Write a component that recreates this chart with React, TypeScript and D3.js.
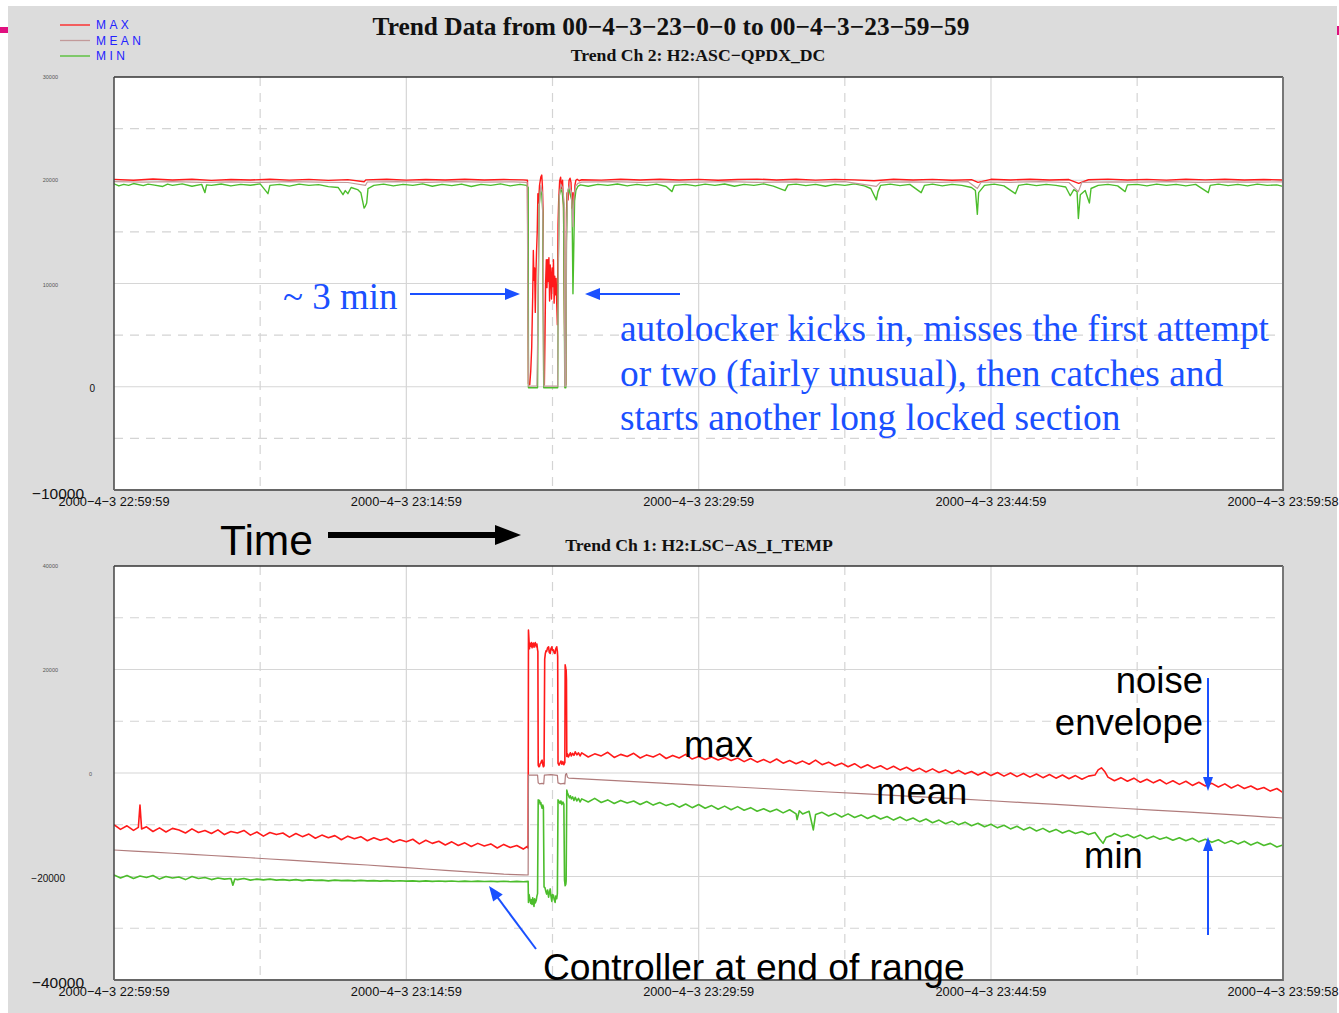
import React from 'react';
import * as d3 from 'd3';

// ---------- DATA ----------
// time axis: seconds after 2000-4-3 22:59:59
const xTickTimes = [0, 900, 1800, 2700, 3599];
const xTickLabels = [
  '2000−4−3 22:59:59',
  '2000−4−3 23:14:59',
  '2000−4−3 23:29:59',
  '2000−4−3 23:44:59',
  '2000−4−3 23:59:58',
];
const xGridMajor = [900, 1800, 2700];
const xGridMinor = [450, 1350, 2250, 3150];

const topYTicks = [30000, 20000, 10000, 0, -10000];
const topYLabels = ['30000', '20000', '10000', '0', '−10000'];
const topGridMajor = [20000, 10000, 0];
const topGridMinor = [25000, 15000, 5000, -5000];

const botYTicks = [40000, 20000, 0, -20000, -40000];
const botYLabels = ['40000', '20000', '0', '−20000', '−40000'];
const botGridMajor = [20000, 0, -20000];
const botGridMinor = [30000, 10000, -10000, -30000];

const legendNames = ['MAX', 'MEAN', 'MIN'];

// Trend Ch 2: H2:ASC-QPDX_DC  [seconds, value]
const topMax: [number, number][] = [
  [0,20080],[60,20000],[120,20120],[180,20030],[240,20090],[300,19990],[360,20070],[420,20020],[480,20100],[540,20010],
  [600,20080],[660,19990],[720,20060],[770,19850],[776,20040],[840,20090],[900,20010],[960,20070],[1020,20030],[1080,20100],
  [1140,20020],[1200,20070],[1260,20040],[1273,20000],
  [1276,300],[1280,200],[1283,1500],[1286,3800],[1289,8700],[1291,13200],[1293,10300],[1295,11500],[1297,7200],[1299,11000],
  [1301,13200],[1303,15000],[1305,18700],[1307,17800],[1310,19500],[1314,20300],[1317,20500],[1319,19400],[1321,17000],[1323,300],
  [1325,200],[1327,5000],[1329,10300],[1331,12300],[1333,9600],[1335,12300],[1337,10200],[1339,12500],[1341,8300],[1343,11800],
  [1345,10800],[1347,8500],[1349,11500],[1351,9700],[1353,12300],[1355,8100],[1357,10700],[1359,8900],[1361,10500],[1363,8100],
  [1365,6000],[1367,15700],[1369,18000],[1372,19900],[1375,20300],[1378,19200],[1381,20000],[1384,17300],[1387,6000],[1389,300],
  [1391,200],[1393,16800],[1395,18800],[1398,18100],[1401,20000],[1404,20200],[1407,19800],[1410,17300],[1413,18800],[1416,17500],
  [1419,19500],[1422,20000],[1426,20100],[1432,19950],
  [1440,20050],[1500,20010],[1560,20090],[1620,20030],[1680,20100],[1740,20020],[1800,20080],[1860,20000],[1920,20070],[1980,20110],
  [2040,20030],[2100,20090],[2160,20010],[2220,20080],[2280,20040],[2340,19950],[2400,20100],[2460,20020],[2520,20080],[2580,20000],
  [2640,20060],[2660,19800],[2700,20090],[2760,20030],[2820,20100],[2880,20020],[2940,20070],[2970,19700],[3000,20050],[3060,20110],
  [3120,20030],[3180,20080],[3240,20010],[3300,20090],[3360,20040],[3420,20100],[3480,20020],[3540,20070],[3599,20030],
];
const topMean: [number, number][] = [
  [0,19860],[90,19820],[180,19870],[270,19800],[360,19850],[450,19790],[540,19860],[630,19820],[720,19780],[774,19500],
  [780,19830],[870,19860],[960,19800],[1050,19870],[1140,19820],[1230,19850],[1272,19800],
  [1276,50],[1302,80],[1305,6000],[1309,17500],[1314,19500],[1319,18800],[1322,12000],[1324,60],[1366,60],[1368,12000],
  [1371,18500],[1376,19600],[1381,19300],[1386,17800],[1388,60],[1391,60],[1393,15000],[1397,19000],[1402,19500],[1408,18900],
  [1413,15500],[1416,18400],[1421,19400],[1428,19700],
  [1440,19820],[1530,19860],[1620,19800],[1710,19850],[1800,19810],[1890,19860],[1980,19790],[2070,19850],[2160,19820],[2250,19870],
  [2347,19400],[2360,19820],[2450,19850],[2540,19800],[2630,19860],[2658,19200],[2670,19830],[2760,19800],[2850,19860],[2940,19780],
  [2969,18900],[2980,19800],[3070,19850],[3160,19810],[3250,19860],[3340,19800],[3430,19850],[3520,19820],[3599,19840],
];
const topMin: [number, number][] = [
  [0,19650],[15,19450],[30,19600],[45,19500],[60,19680],[90,19480],[105,19620],[120,19550],[150,19400],[165,19620],
  [180,19500],[210,19650],[240,19420],[270,19600],[280,18800],[285,19550],[300,19500],[330,19640],[360,19450],[390,19600],
  [420,19520],[450,19650],[474,18700],[480,19500],[510,19600],[540,19430],[570,19620],[600,19500],[630,19580],[660,19380],
  [690,19300],[705,18600],[712,19000],[720,18700],[730,19300],[750,19100],[760,18800],[770,17300],[774,17500],[778,17800],
  [782,19200],[800,19500],[830,19620],[860,19450],[890,19600],[920,19500],[950,19650],[980,19420],[1010,19600],[1040,19480],
  [1070,19630],[1100,19400],[1130,19600],[1160,19500],[1190,19650],[1220,19450],[1250,19600],[1270,19500],[1275,19300],
  [1276,-100],[1304,-100],[1306,9000],[1309,17500],[1313,19100],[1317,18600],[1320,17000],[1323,-100],[1366,-100],[1368,12000],
  [1371,18500],[1375,19200],[1380,18800],[1384,17600],[1388,-100],[1391,-100],[1393,14000],[1396,18700],[1400,19200],[1405,18600],
  [1410,18000],[1413,9000],[1415,12500],[1418,18000],[1422,19000],[1428,19400],[1436,19550],
  [1460,19420],[1490,19600],[1520,19500],[1550,19640],[1580,19450],[1610,19600],[1640,19480],[1670,19620],[1700,19400],[1718,18900],
  [1725,19500],[1760,19600],[1790,19450],[1820,19620],[1850,19500],[1880,19640],[1910,19420],[1940,19600],[1970,19500],[2000,19650],
  [2030,19430],[2066,19000],[2075,19550],[2100,19620],[2130,19480],[2160,19600],[2190,19420],[2220,19600],[2250,19500],[2280,19650],
  [2310,19450],[2330,19200],[2347,18100],[2352,18900],[2360,19500],[2390,19620],[2420,19480],[2450,19600],[2485,18800],[2495,19500],
  [2520,19620],[2550,19450],[2580,19600],[2610,19500],[2640,19300],[2652,19000],[2658,16700],[2662,18800],[2680,19500],[2710,19620],
  [2740,19450],[2775,18700],[2785,19500],[2810,19620],[2840,19480],[2870,19600],[2900,19500],[2930,19350],[2944,18500],[2955,19100],
  [2965,18900],[2969,16300],[2975,18600],[2990,19000],[3003,17800],[3008,19200],[3030,19500],[3060,19600],[3090,19450],[3113,18900],
  [3120,19550],[3150,19600],[3180,19450],[3210,19620],[3240,19500],[3270,19600],[3300,19450],[3330,19600],[3369,18800],[3375,19500],
  [3400,19620],[3430,19480],[3460,19600],[3490,19450],[3520,19620],[3550,19500],[3580,19550],[3599,19400],
];

// Trend Ch 1: H2:LSC-AS_I_TEMP  [seconds, value]
const botMax: [number, number][] = [
  [0,-10000],[20,-10900],[40,-10200],[60,-11100],[75,-10500],[80,-6200],[85,-10800],[100,-10400],[120,-11300],[140,-10600],
  [160,-11400],[180,-10700],[200,-11000],[220,-11600],[240,-10800],[260,-11500],[280,-11100],[300,-11700],[320,-11000],[340,-11900],
  [360,-11300],[380,-11600],[400,-11100],[420,-12000],[440,-11400],[460,-12200],[480,-11500],[500,-11900],[520,-11600],[540,-12400],
  [560,-11700],[580,-12300],[600,-11800],[620,-12600],[640,-12000],[660,-12500],[680,-12100],[700,-12900],[720,-12200],[740,-12700],
  [760,-12300],[780,-13100],[800,-12500],[820,-13000],[840,-12600],[860,-13400],[880,-12900],[900,-13300],[920,-12800],[940,-13700],
  [960,-13000],[980,-13600],[1000,-13200],[1020,-13900],[1040,-13300],[1060,-14000],[1080,-13500],[1100,-14200],[1120,-13600],[1140,-14100],
  [1160,-13700],[1180,-14500],[1200,-13800],[1220,-14400],[1240,-14000],[1260,-14700],[1272,-14200],[1275,-14500],
  [1276,27600],[1279,24000],[1281,25000],[1283,24500],[1285,25200],[1287,24200],[1289,25000],[1291,25100],[1293,24300],[1295,24800],
  [1297,25200],[1300,24400],[1302,24900],[1304,23800],[1305,23500],[1306,1500],[1308,1200],[1310,1300],[1312,1800],[1314,1900],
  [1316,2300],[1318,2500],[1320,1700],[1322,1200],[1324,1400],[1326,22000],[1328,23100],[1330,23600],[1332,23500],[1335,24200],
  [1338,24400],[1340,23300],[1343,23100],[1345,24000],[1348,24400],[1350,23700],[1353,23800],[1355,23200],[1358,23100],[1360,24000],
  [1363,24400],[1365,23500],[1366,22500],[1367,1900],[1370,1500],[1373,1900],[1376,2300],[1379,1700],[1382,2200],[1385,1600],
  [1387,1900],[1388,2000],[1389,20900],[1391,20200],[1392,19900],[1393,18000],[1394,3200],[1396,3700],[1399,3100],[1402,3500],
  [1405,3900],[1408,3300],[1412,3800],[1416,3400],[1420,4100],[1425,3500],[1430,3900],[1435,3300],
  [1440,3900],[1460,3100],[1480,3700],[1500,3300],[1520,4000],[1540,3000],[1560,3600],[1580,3200],[1600,3800],[1620,2900],
  [1640,3500],[1660,3100],[1680,3700],[1700,2800],[1720,3400],[1740,2900],[1760,3600],[1780,2700],[1800,3200],[1820,2600],
  [1840,3100],[1860,2500],[1880,3000],[1900,2400],[1920,2900],[1940,2200],[1960,2800],[1980,2100],[2000,2600],[2020,2000],
  [2040,2700],[2060,1900],[2080,2400],[2100,1800],[2120,2300],[2140,1700],[2160,2500],[2180,1600],[2200,2100],[2220,1400],
  [2240,1900],[2260,1200],[2280,1800],[2300,1000],[2320,1600],[2340,900],[2360,1400],[2380,700],[2400,1300],[2420,600],
  [2440,1100],[2460,400],[2480,900],[2500,200],[2520,800],[2540,100],[2560,600],[2580,-100],[2600,500],[2620,-200],
  [2640,300],[2660,-400],[2680,200],[2700,-500],[2720,100],[2740,-600],[2760,0],[2780,-700],[2800,-100],[2820,-800],
  [2840,-200],[2860,-900],[2880,-300],[2900,-1000],[2920,-400],[2940,-1100],[2960,-500],[2980,-1200],[3000,-600],[3020,-400],
  [3030,600],[3040,1000],[3050,300],[3060,-800],[3080,-1500],[3100,-900],[3120,-1600],[3140,-1000],[3160,-1800],[3180,-1200],
  [3200,-1900],[3220,-1300],[3240,-2100],[3260,-1500],[3280,-2200],[3300,-1600],[3320,-2400],[3340,-1800],[3360,-2500],[3380,-2000],
  [3400,-2700],[3420,-2100],[3440,-2900],[3460,-2300],[3480,-3000],[3500,-2500],[3520,-3200],[3540,-2800],[3560,-3500],[3580,-3000],
  [3599,-3800],
];
const botMean: [number, number][] = [
  [0,-14880],[60,-15090],[120,-15300],[180,-15510],[240,-15730],[300,-15940],[360,-16150],[420,-16380],[480,-16620],[540,-16850],
  [600,-17090],[660,-17320],[720,-17550],[780,-17780],[840,-18040],[900,-18290],[960,-18550],[1020,-18800],[1080,-19060],[1140,-19310],
  [1200,-19560],[1260,-19680],[1275,-19710],
  [1276,-400],[1304,-400],[1306,-1900],[1310,-2100],[1318,-2000],[1323,-2100],[1325,-400],[1345,-300],[1365,-450],[1367,-1900],
  [1375,-2100],[1385,-2000],[1388,-2100],[1390,-300],[1393,-100],[1396,-800],
  [1400,-990],[1500,-1320],[1600,-1660],[1700,-1990],[1800,-2330],[1900,-2660],[2000,-3000],[2100,-3330],[2200,-3670],[2300,-4000],
  [2400,-4340],[2500,-4670],[2600,-5010],[2700,-5360],[2800,-5720],[2900,-6080],[3000,-6440],[3100,-6810],[3200,-7170],[3300,-7530],
  [3400,-7900],[3500,-8280],[3599,-8700],
];
const botMin: [number, number][] = [
  [0,-19700],[20,-20300],[40,-19800],[60,-20400],[80,-19900],[100,-20200],[120,-19800],[140,-20500],[160,-20000],[180,-20300],
  [200,-20100],[220,-20600],[240,-20000],[260,-20400],[280,-20200],[300,-20600],[320,-20300],[340,-20500],[360,-20400],[366,-21700],
  [372,-20500],[380,-20600],[400,-20400],[420,-20700],[440,-20500],[460,-20650],[480,-20500],[500,-20700],[520,-20600],[540,-20750],
  [560,-20600],[580,-20800],[600,-20650],[620,-20750],[640,-20700],[660,-20850],[680,-20700],[700,-20800],[720,-20750],[740,-20850],
  [760,-20750],[780,-20850],[800,-20800],[820,-20900],[840,-20800],[860,-20900],[880,-20820],[900,-20900],[920,-20850],[940,-20950],
  [960,-20850],[980,-20950],[1000,-20870],[1020,-20950],[1040,-20880],[1060,-20960],[1080,-20900],[1100,-20980],[1120,-20900],[1140,-20970],
  [1160,-20920],[1180,-20990],[1200,-20920],[1220,-21000],[1240,-20950],[1260,-21000],[1275,-20950],
  [1276,-25000],[1278,-23500],[1280,-24200],[1283,-25200],[1285,-24500],[1287,-25400],[1289,-24100],[1291,-24800],[1293,-25800],[1295,-24300],
  [1297,-25100],[1300,-24600],[1302,-23800],[1304,-23300],[1306,-5200],[1308,-5600],[1310,-5300],[1312,-6000],[1314,-5700],[1316,-6400],
  [1318,-6800],[1320,-6200],[1322,-6600],[1324,-22000],[1327,-22200],[1330,-23000],[1332,-23400],[1335,-22600],[1338,-24000],[1340,-23200],
  [1343,-22400],[1345,-23700],[1348,-24800],[1350,-23500],[1353,-23600],[1355,-24400],[1358,-25000],[1360,-23800],[1363,-24300],[1365,-23300],
  [1367,-5200],[1370,-5500],[1373,-5900],[1376,-5400],[1379,-6100],[1382,-5600],[1385,-6000],[1387,-20700],[1389,-21800],[1391,-21500],
  [1392,-20900],[1394,-3300],[1396,-3800],[1399,-4300],[1402,-4800],[1405,-4400],[1408,-5000],[1412,-4600],[1416,-5300],[1420,-4700],
  [1425,-5400],[1430,-4900],[1435,-5600],
  [1440,-5000],[1460,-5600],[1480,-4900],[1500,-5700],[1520,-5200],[1540,-5900],[1560,-5300],[1580,-5800],[1600,-5400],[1620,-6100],
  [1640,-5500],[1660,-6200],[1680,-5700],[1700,-6300],[1720,-5900],[1740,-6600],[1760,-6000],[1780,-6700],[1800,-6100],[1820,-6800],
  [1840,-6300],[1860,-7000],[1880,-6400],[1900,-7100],[1920,-6500],[1940,-7200],[1960,-6700],[1980,-7400],[2000,-6900],[2020,-7500],
  [2040,-7000],[2060,-7700],[2080,-7100],[2100,-7900],[2103,-9000],[2110,-7300],[2120,-7900],[2140,-7400],[2153,-11000],[2160,-8000],
  [2180,-7600],[2200,-8300],[2220,-7800],[2240,-8500],[2260,-7900],[2280,-8600],[2300,-8100],[2320,-8800],[2340,-8200],[2360,-8900],
  [2380,-8400],[2400,-9100],[2420,-8500],[2440,-9200],[2460,-8700],[2480,-9400],[2500,-8900],[2520,-9600],[2540,-9100],[2560,-9800],
  [2580,-9300],[2600,-10000],[2620,-9500],[2640,-10200],[2660,-9700],[2680,-10400],[2700,-9900],[2720,-10600],[2740,-10100],[2760,-10800],
  [2780,-10300],[2800,-11000],[2820,-10500],[2840,-11200],[2860,-10700],[2880,-11400],[2900,-10900],[2920,-11600],[2940,-11100],[2960,-11700],
  [2980,-11300],[3000,-11900],[3020,-11500],[3035,-12800],[3045,-13600],[3055,-12400],[3070,-12100],[3080,-11700],[3100,-12300],[3120,-11900],
  [3140,-12500],[3160,-12000],[3180,-12700],[3200,-12200],[3220,-12800],[3240,-12400],[3260,-13000],[3280,-12500],[3300,-13100],[3320,-12600],
  [3340,-13300],[3360,-12800],[3380,-13400],[3400,-12900],[3420,-13600],[3440,-13100],[3460,-13700],[3480,-13200],[3500,-13900],[3520,-13400],
  [3540,-14000],[3560,-13600],[3580,-14300],[3599,-13900],
];

// ---------- STYLE ----------
const RED = '#ff1a1a';
const GREEN = '#4cbd2c';
const MEAN_TOP = '#c29a9a';
const MEAN_BOT = '#b07c7c';
const BLUE = '#1a50ff';
const SERIF = '"Liberation Serif", "Times New Roman", serif';
const SANS = '"Liberation Sans", Arial, Helvetica, sans-serif';

const PL = 114, PR = 1283;

function Arrow({ x1, y1, x2, y2, len = 15, hw = 6, color = BLUE, w = 2 }: any) {
  const dx = x2 - x1, dy = y2 - y1;
  const d = Math.sqrt(dx * dx + dy * dy);
  const ux = dx / d, uy = dy / d;
  const bx = x2 - ux * len, by = y2 - uy * len;
  const px = -uy * hw, py = ux * hw;
  return (
    <g>
      <line x1={x1} y1={y1} x2={bx + ux * 1} y2={by + uy * 1} stroke={color} strokeWidth={w} />
      <polygon points={`${x2},${y2} ${bx + px},${by + py} ${bx - px},${by - py}`} fill={color} />
    </g>
  );
}

function Panel({ id, top, bottom, domain, yTicks, yLabels, yFont, yRight, yOff, gMajor, gMinor, series }: any) {
  const x = d3.scaleLinear().domain([0, 3599]).range([PL, PR]);
  const y = d3.scaleLinear().domain(domain).range([bottom, top]);
  const line = d3.line<[number, number]>().x(d => x(d[0])).y(d => y(d[1]));
  return (
    <g>
      <defs>
        <clipPath id={id}>
          <rect x={PL} y={top} width={PR - PL} height={bottom - top} />
        </clipPath>
      </defs>
      <rect x={PL} y={top} width={PR - PL} height={bottom - top} fill="#ffffff" />
      {gMinor.map((v: number) => (
        <line key={'hm' + v} x1={PL} x2={PR} y1={y(v)} y2={y(v)} stroke="#d4d4d4" strokeWidth={1.2} strokeDasharray="9,7" />
      ))}
      {gMajor.map((v: number) => (
        <line key={'hM' + v} x1={PL} x2={PR} y1={y(v)} y2={y(v)} stroke="#d6d6d6" strokeWidth={1.2} />
      ))}
      {xGridMinor.map(t => (
        <line key={'vm' + t} x1={x(t)} x2={x(t)} y1={top} y2={bottom} stroke="#d4d4d4" strokeWidth={1.2} strokeDasharray="9,7" />
      ))}
      {xGridMajor.map(t => (
        <line key={'vM' + t} x1={x(t)} x2={x(t)} y1={top} y2={bottom} stroke="#d6d6d6" strokeWidth={1.2} />
      ))}
      <g clipPath={`url(#${id})`} fill="none" strokeLinejoin="round">
        {series.map((s: any, i: number) => (
          <path key={i} d={line(s.data) || ''} stroke={s.color} strokeWidth={s.w} />
        ))}
      </g>
      <line x1={PL} y1={top} x2={PR} y2={top} stroke="#333" strokeWidth={1.5} />
      <line x1={PL} y1={top} x2={PL} y2={bottom} stroke="#444" strokeWidth={1.5} />
      <line x1={PR} y1={top} x2={PR} y2={bottom + 1} stroke="#777" strokeWidth={2} />
      <line x1={PL} y1={bottom} x2={PR} y2={bottom} stroke="#666" strokeWidth={2} />
      {yTicks.map((v: number, i: number) => (
        <text key={'yl' + v} x={yRight[i]} y={y(v) + yOff[i]} fontFamily={SANS} fontSize={yFont[i]} textAnchor="end"
          dominantBaseline="central" fill={yFont[i] < 7 ? '#555' : '#111'}>
          {yLabels[i]}
        </text>
      ))}
      {xTickTimes.map((t, i) => (
        <text key={'xl' + t} x={x(t)} y={bottom + 16} fontFamily={SANS} fontSize={12.8} textAnchor="middle" fill="#111">
          {xTickLabels[i]}
        </text>
      ))}
    </g>
  );
}

export default function App() {
  const legendColors = [RED, MEAN_TOP, GREEN];
  return (
    <svg width={1339} height={1013} style={{ position: 'absolute', left: 0, top: 0 }}>
      <rect x={0} y={0} width={1339} height={1013} fill="#ffffff" />
      <rect x={8} y={6} width={1329} height={1007} fill="#dcdcdc" />
      <rect x={0} y={27} width={8} height={6} fill="#e0107f" />
      <rect x={1337} y={26} width={2} height={9} fill="#e0107f" />

      {/* legend */}
      {legendNames.map((n, i) => (
        <g key={n}>
          <line x1={60} x2={90} y1={25 + i * 15.5} y2={25 + i * 15.5} stroke={legendColors[i]} strokeWidth={1.3} />
          <text x={96} y={29 + i * 15.5} fontFamily={SANS} fontSize={12} letterSpacing={3.4} fill="#2222ff">{n}</text>
        </g>
      ))}

      <text x={671} y={35} fontFamily={SERIF} fontWeight="bold" fontSize={25.4} textAnchor="middle" fill="#111">
        Trend Data from 00−4−3−23−0−0 to 00−4−3−23−59−59
      </text>
      <text x={698} y={61} fontFamily={SERIF} fontWeight="bold" fontSize={17.7} textAnchor="middle" fill="#111">
        Trend Ch 2: H2:ASC−QPDX_DC
      </text>
      <text x={699} y={551} fontFamily={SERIF} fontWeight="bold" fontSize={17.7} textAnchor="middle" fill="#111">
        Trend Ch 1: H2:LSC−AS_I_TEMP
      </text>

      <Panel id="clipTop" top={77} bottom={490} domain={[-10000, 30000]}
        yTicks={topYTicks} yLabels={topYLabels}
        yFont={[5.5, 5.5, 5.5, 10, 15.5]} yRight={[58, 58, 58, 95, 84]} yOff={[0, 0, 1, 2, 3]}
        gMajor={topGridMajor} gMinor={topGridMinor}
        series={[
          { data: topMax, color: RED, w: 1.4 },
          { data: topMin, color: GREEN, w: 1.4 },
          { data: topMean, color: MEAN_TOP, w: 1.2 },
        ]} />
      <Panel id="clipBot" top={566} bottom={980} domain={[-40000, 40000]}
        yTicks={botYTicks} yLabels={botYLabels}
        yFont={[5.5, 5.5, 5.5, 10, 15.5]} yRight={[58, 58, 92, 65, 84]} yOff={[0, 0, 1, 2, 2]}
        gMajor={botGridMajor} gMinor={botGridMinor}
        series={[
          { data: botMax, color: RED, w: 1.6 },
          { data: botMin, color: GREEN, w: 1.6 },
          { data: botMean, color: MEAN_BOT, w: 1.2 },
        ]} />

      {/* annotations top */}
      <text x={283} y={309} fontFamily={SERIF} fontSize={37} fill={BLUE}>~ 3 min</text>
      <Arrow x1={410} y1={294} x2={520} y2={294} len={15} hw={6} />
      <Arrow x1={680} y1={294} x2={585} y2={294} len={15} hw={6} />
      <text x={620} y={341} fontFamily={SERIF} fontSize={37.4} fill={BLUE}>autolocker kicks in, misses the first attempt</text>
      <text x={620} y={386} fontFamily={SERIF} fontSize={37.4} fill={BLUE}>or two (fairly unusual), then catches and</text>
      <text x={620} y={430} fontFamily={SERIF} fontSize={37.4} fill={BLUE}>starts another long locked section</text>

      {/* Time arrow */}
      <text x={220} y={555} fontFamily={SANS} fontSize={42.5} fill="#000">Time</text>
      <Arrow x1={328} y1={535} x2={521} y2={535} len={26} hw={10} color="#000" w={6} />

      {/* annotations bottom */}
      <text x={684} y={757} fontFamily={SANS} fontSize={36.5} fill="#000">max</text>
      <text x={876} y={804} fontFamily={SANS} fontSize={36.5} fill="#000">mean</text>
      <text x={1084} y={868} fontFamily={SANS} fontSize={36.5} fill="#000">min</text>
      <text x={1203} y={693} fontFamily={SANS} fontSize={36.5} textAnchor="end" fill="#000">noise</text>
      <text x={1203} y={735} fontFamily={SANS} fontSize={36.5} textAnchor="end" fill="#000">envelope</text>
      <Arrow x1={1208} y1={678} x2={1208} y2={791} len={14} hw={5} />
      <Arrow x1={1208} y1={935} x2={1208} y2={837} len={14} hw={5} />
      <Arrow x1={536} y1={949} x2={489} y2={886} len={15} hw={6} />
      <text x={543} y={980} fontFamily={SANS} fontSize={37.2} fill="#000">Controller at end of range</text>
    </svg>
  );
}
